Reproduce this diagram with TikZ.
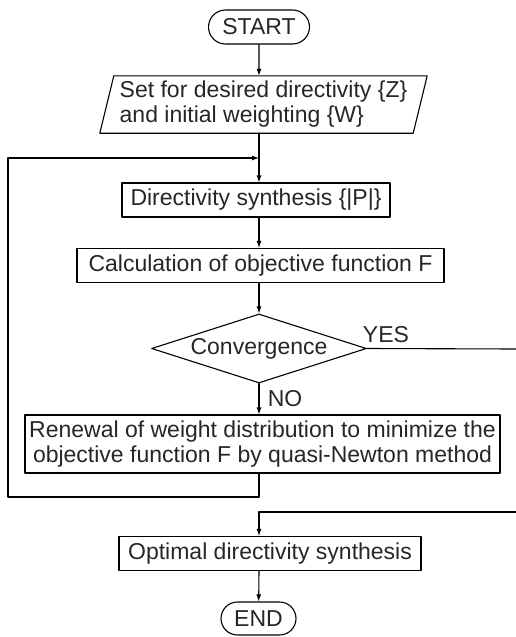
\documentclass[tikz,border=0pt]{standalone}
\usepackage{fontspec}
\setmainfont{Liberation Sans}
\usetikzlibrary{arrows.meta,shapes.geometric,shapes.misc}

\begin{document}
\begin{tikzpicture}[x=1pt, y=-1pt, line cap=round, line join=round,
  every node/.style={font=\fontsize{23}{25}\selectfont, text=black!85},
  flow/.style={draw, line width=1.1pt, inner sep=2pt},
  terminal/.style={flow, rounded rectangle, minimum height=34pt},
  procbox/.style={flow, rectangle, minimum height=34pt},
  decision/.style={flow, diamond, aspect=3.1, inner sep=0pt,
                   minimum width=215pt, minimum height=69pt},
  link/.style={line width=1.1pt},
  arr/.style={link, -{Latex[length=7pt,width=5pt]}}]
  \useasboundingbox (0,0) rectangle (516,637);
  % the flow, top to bottom
  \node[terminal, minimum width=105pt] (start) at (259,27) {START};
  \node[align=left, inner sep=0pt, minimum width=313pt, minimum height=57pt]
    (init) at (263.5,104.5) {Set for desired directivity \{Z\}\\and initial weighting \{W\}};
  \draw[link] ([xshift=7pt]init.north west) -- ([xshift=7pt]init.north east)
    -- ([xshift=-7pt]init.south east) -- ([xshift=-7pt]init.south west) -- cycle;
  \node[procbox, minimum width=268pt] (synth) at (256,200) {Directivity synthesis \{|P|\}};
  \node[procbox, minimum width=367pt] (calc) at (260.5,265.5) {Calculation of objective function F};
  \node[decision] (conv) at (259,348.5) {Convergence};
  \node[procbox, minimum width=475pt, minimum height=58pt, align=center] (renew) at (262.5,444)
    {Renewal of weight distribution to minimize the\\objective function F by quasi-Newton method};
  \node[procbox, minimum width=302pt] (optim) at (270,553.5) {Optimal directivity synthesis};
  \node[terminal, minimum width=79pt, minimum height=33pt] (stop) at (258.5,618.5) {END};
  % branch labels
  \node (yes) at (386,335) {YES};
  \node (no) at (285,399) {NO};
  % loose ends of the loops
  \coordinate (join) at (259,158);
  \coordinate (loopbot) at (8,497);
  \coordinate (looptop) at (8,158);
  \coordinate (yesout) at (516,349);
  \coordinate (yesin) at (516,512);
  % connectors
  \draw[arr] (start) -- (init.north -| start);
  \draw[link] (init.south -| start) -- (join);
  \draw[arr] (join) -- (synth.north -| start);
  \draw[arr] (synth.south -| start) -- (calc.north -| start);
  \draw[arr] (calc.south -| start) -- (conv.north);
  \draw[link] (conv.east) -- (yesout);
  \draw[arr] (conv.south) -- (renew.north -| conv.south);
  \draw[arr] (renew.south -| start) |- (loopbot) -- (looptop) -- (join);
  \draw[arr] (yesin) -| (optim.north -| start);
  \draw[arr] (optim.south -| start) -- (stop);
\end{tikzpicture}
\end{document}
